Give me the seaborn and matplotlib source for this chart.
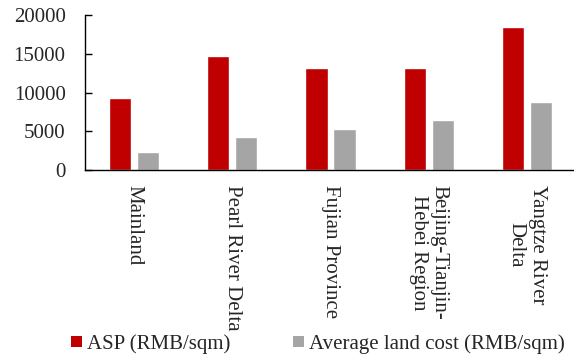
import matplotlib
matplotlib.use("Agg")
import matplotlib.pyplot as plt
from matplotlib.patches import Patch
from matplotlib.ticker import FixedLocator
import seaborn as sns
import pandas as pd

regions = ["Mainland", "Pearl River Delta", "Fujian Province",
           "Beijing-Tianjin-\nHebei Region", "Yangtze River\nDelta"]
asp = [9250, 14700, 13200, 13150, 18450]
land_cost = [2320, 4250, 5300, 6450, 8730]
series = ["ASP (RMB/sqm)", "Average land cost (RMB/sqm)"]
colors = ["#C00000", "#A5A5A5"]
yticks = [0, 5000, 10000, 15000, 20000]

df = pd.DataFrame({
    "region": regions * 2,
    "value": asp + land_cost,
    "series": [series[0]] * len(regions) + [series[1]] * len(regions),
})

sns.set_theme(style="white")
plt.rcParams["font.family"] = ["Liberation Serif", "DejaVu Serif"]
plt.rcParams["font.size"] = 15

W, H = 574, 358
fig = plt.figure(figsize=(W / 100, H / 100), dpi=100)
ax = fig.add_axes([85 / W, (H - 170) / H, 491 / W, 155 / H])

sns.barplot(data=df, x="region", y="value", hue="series", order=regions,
            hue_order=series, palette=colors, width=0.57, gap=0.21,
            saturation=1, legend=False, ax=ax)

ax.set_xlim(-0.5, len(regions) - 0.5)
ax.set_ylim(0, 20000)
ax.set_yticks(yticks)
ax.set_yticklabels([str(v) for v in yticks], fontsize=15)
ax.set_xlabel("")
ax.set_ylabel("")

ax.set_xticks(range(len(regions)))
ax.set_xticklabels(regions, rotation=270, fontsize=15, linespacing=1.15)
ax.xaxis.set_minor_locator(FixedLocator([i - 0.5 for i in range(len(regions) + 1)]))
ax.tick_params(axis="x", which="major", length=0, pad=11)
ax.tick_params(axis="x", which="minor", direction="out", length=6, width=1, color="black")
ax.tick_params(axis="y", which="major", direction="in", length=5, width=1,
               color="black", pad=14, left=True)

for side in ["top", "right"]:
    ax.spines[side].set_visible(False)
for side in ["left", "bottom"]:
    ax.spines[side].set_color("black")
    ax.spines[side].set_linewidth(1)

handles = [Patch(facecolor=c, edgecolor="none") for c in colors]
fig.legend(handles, series, loc="center", bbox_to_anchor=(318 / W, (H - 344) / H),
           ncol=2, frameon=False, fontsize=15, handlelength=0.52, handleheight=0.48,
           handletextpad=0.25, columnspacing=3.0, borderpad=0, borderaxespad=0)

fig.savefig("out.png", dpi=100, facecolor="white")
